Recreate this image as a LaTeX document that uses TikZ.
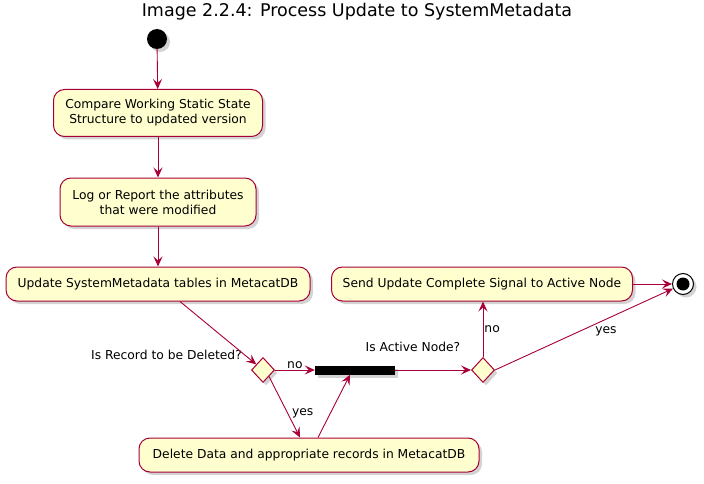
\documentclass[tikz,border=0pt]{standalone}
\usepackage{fontspec}
\setmainfont{DejaVu Sans}
\usetikzlibrary{shapes.geometric,shadows,arrows.meta}
\definecolor{umlred}{HTML}{A80036}
\definecolor{umlfill}{HTML}{FEFECE}
\tikzset{
	act/.style={draw=umlred,fill=umlfill,line width=1pt,rounded corners=11pt,align=center,inner sep=0pt,font=\fontsize{12.3}{15}\selectfont,drop shadow={shadow xshift=3pt,shadow yshift=-3pt,opacity=0.35}},
	dec/.style={diamond,draw=umlred,fill=umlfill,line width=1pt,inner sep=0pt,minimum width=23pt,minimum height=25pt,drop shadow={shadow xshift=3pt,shadow yshift=-3pt,opacity=0.35}},
	lbl/.style={font=\fontsize{12.3}{15}\selectfont,inner sep=1pt},
	arr/.style={-{Stealth[length=10pt,width=9pt,inset=4pt]},draw=umlred,line width=0.9pt}
}
\begin{document}
\begin{tikzpicture}[x=1pt,y=-1pt]
	\useasboundingbox (0,0) rectangle (704,484);
	%Tieu de
	\node (title) at (357,12) {\fontsize{17.5}{20}\selectfont Image 2.2.4: Process Update to SystemMetadata};
	%Bat dau
	\node (start) at (157,39) [circle,fill=black,minimum size=20pt,inner sep=0pt,drop shadow={shadow xshift=3pt,shadow yshift=-3pt,opacity=0.35}] {};
	%Hop 1,2,3
	\node (cmp) at (158,113) [act,minimum width=209pt,minimum height=47pt] {Compare Working Static State\\ Structure to updated version};
	\node (log) at (158,202) [act,minimum width=196pt,minimum height=48pt] {Log or Report the attributes\\that were modified};
	\node (upd) at (158,284) [act,minimum width=304pt,minimum height=34pt] {Update SystemMetadata tables in MetacatDB};
	%Re nhanh 1
	\node (dec1) at (263,370) [dec] {};
	\node (q1) at (243,355) [lbl,anchor=east] {Is Record to be Deleted?};
	%Thanh dong bo
	\node (bar) at (355,370) [fill=black,minimum width=80pt,minimum height=9pt,inner sep=0pt,drop shadow={shadow xshift=3pt,shadow yshift=-3pt,opacity=0.35}] {};
	%Hop 4
	\node (del) at (309,455) [act,minimum width=340pt,minimum height=34pt] {Delete Data and appropriate records in MetacatDB};
	%Re nhanh 2
	\node (dec2) at (483,370) [dec] {};
	\node (q2) at (413,347) [lbl] {Is Active Node?};
	%Hop 5
	\node (send) at (482,284) [act,minimum width=301pt,minimum height=34pt] {Send Update Complete Signal to Active Node};
	%Ket thuc
	\node (stop) at (683,284) [circle,draw=black,line width=1pt,fill=white,minimum size=21pt,inner sep=0pt,drop shadow={shadow xshift=3pt,shadow yshift=-3pt,opacity=0.35}] {};
	\node (stopin) at (stop) [circle,fill=black,minimum size=13pt,inner sep=0pt] {};
	%Mui ten
	\draw [arr] (start) -- (cmp);
	\draw [arr] (cmp) -- (log);
	\draw [arr] (log) -- (upd);
	\draw [arr] ([xshift=22pt]upd.south) -- (dec1);
	\draw [arr] (dec1.east) -- (bar.west) node[lbl,pos=0.5,above]{no};
	\draw [arr] (dec1.south east) -- ([xshift=-9pt]del.north) node[lbl,pos=0.6,right,xshift=3pt]{yes};
	\draw [arr] ([xshift=9pt]del.north) -- ([xshift=-5pt]bar.south);
	\draw [arr] (bar.east) -- (dec2.west);
	\draw [arr] (dec2.north) -- (dec2.north |- send.south) node[lbl,pos=0.5,right]{no};
	\draw [arr] (send.east) -- (stop);
	\draw [arr] (dec2.east) -- (stop);
	\node (yes2) at (606,331) [lbl] {yes};
\end{tikzpicture}
\end{document}
